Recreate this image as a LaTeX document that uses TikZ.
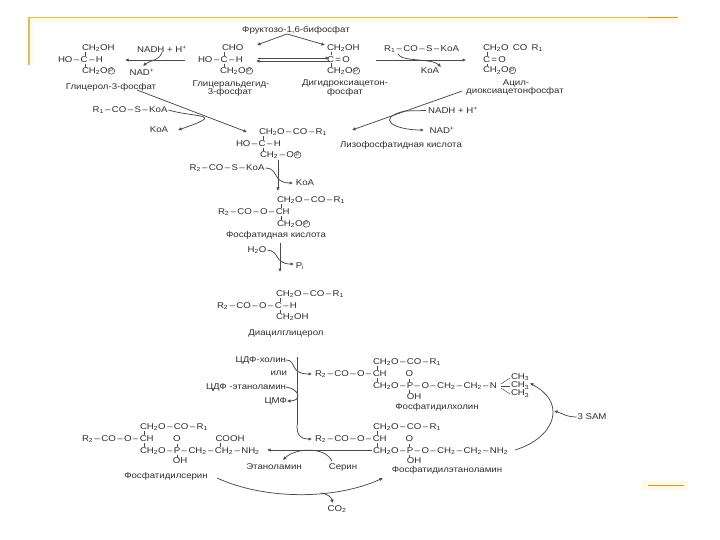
\documentclass[tikz,border=0pt]{standalone}
\usepackage{fontspec}
\usetikzlibrary{arrows.meta}
\setmainfont[FakeStretch=1.15]{Liberation Sans}
\newcommand\lw[1]{\textsubscript{#1}}
\newcommand\hg[1]{\textsuperscript{#1}}
\newcommand\lnk{\,–\,}
\newcommand\pc{\begin{tikzpicture}[baseline=-2.6pt,x=1pt,y=1pt]\node[circle,draw=ink,line width=0.45pt,inner sep=0.2pt,minimum size=6.8pt,font=\fontsize{5.6}{6}\selectfont,text=ink] {P};\end{tikzpicture}}
\definecolor{ink}{HTML}{2E2E2E}
\definecolor{wire}{HTML}{4A4A4A}
\definecolor{gold}{HTML}{C49C30}
\definecolor{paleline}{HTML}{D6BE6A}
\definecolor{glow}{HTML}{FFFAE8}
\tikzset{
  x=1pt,y=-1pt,
  txt/.style={inner sep=0pt,outer sep=0pt,font=\fontsize{8.4}{9}\selectfont,text=ink},
  rw/.style={txt,anchor=west},
  ct/.style={txt,anchor=center},
  arr/.style={draw=wire,line width=0.75pt,-{Latex[length=3.5pt,width=3.5pt]}},
  plain/.style={draw=wire,line width=0.75pt},
  bnd/.style={draw=wire,line width=0.5pt},
}
\begin{document}
\begin{tikzpicture}
\fill[white] (0,0) rectangle (720,540);
\useasboundingbox (0,0) rectangle (720,540);
% frame
\draw[glow,line width=7pt] (29,65) -- (29,20) -- (678,20);
\fill[glow] (642,481) rectangle (688,490);
\draw[paleline,line width=1.3pt] (29,65) -- (29,17.5) -- (648,17.5);
\draw[gold,line width=1.4pt] (648,17.5) -- (678,17.5);
\draw[gold,line width=1.5pt] (648,485.5) -- (684,485.5);
% top row
\node[ct] (fbp) at (296,30) {Фруктозо-1,6-бифосфат};
\node[rw] (g1) at (82,48) {CH\lw{2}OH};
\node[rw] (g2) at (58,60) {HO\lnk C\lnk H};
\node[rw] (g3) at (82,71) {CH\lw{2}O\pc};
\node[ct] (glab) at (111,87) {Глицерол-3-фосфат};
\node[ct] (nadh1) at (162,49) {NADH + H\hg{+}};
\node[ct] (nad1) at (142,72) {NAD\hg{+}};
\node[rw] (a1) at (222,48) {CHO};
\node[rw] (a2) at (198,60) {HO\lnk C\lnk H};
\node[rw] (a3) at (220,71) {CH\lw{2}O\pc};
\node[ct] (alab1) at (231,84) {Глицеральдегид-};
\node[ct] (alab2) at (230,92.5) {3-фосфат};
\node[rw] (d1) at (327,48) {CH\lw{2}OH};
\node[rw] (d2) at (327,59.5) {C\,=\,O};
\node[rw] (d3) at (327,71) {CH\lw{2}O\pc};
\node[ct] (dlab1) at (345,83) {Дигидроксиацетон-};
\node[ct] (dlab2) at (345,92) {фосфат};
\node[ct] (r1s) at (421.5,49) {R\lw{1}\lnk CO\lnk S\lnk KoA};
\node[ct] (koa1) at (430,71) {KoA};
\node[rw] (e1) at (483,48) {CH\lw{2}O\,\,\,CO\,\,\,R\lw{1}};
\node[rw] (e2) at (483,60) {C\,=\,O};
\node[rw] (e3) at (483,70.5) {CH\lw{2}O\pc};
\node[ct] (elab1) at (516,83) {Ацил-};
\node[ct] (elab2) at (515,91) {диоксиацетонфосфат};
% second level
\node[ct] (r1l) at (130,110) {R\lw{1}\lnk CO\lnk S\lnk KoA};
\node[ct] (koa2) at (159,130) {KoA};
\node[rw] (l1) at (259,132) {CH\lw{2}O\lnk CO\lnk R\lw{1}};
\node[rw] (l2) at (236,144) {HO\lnk C\lnk H};
\node[rw] (l3) at (260,155) {CH\lw{2}\lnk O\pc};
\node[ct] (nadh2) at (453,110.5) {NADH + H\hg{+}};
\node[ct] (nad2) at (442,130) {NAD\hg{+}};
\node[ct] (llab) at (401,145) {Лизофосфатидная кислота};
\node[ct] (r2s) at (227,168) {R\lw{2}\lnk CO\lnk S\lnk KoA};
\node[ct] (koa3) at (305,183) {KoA};
% phosphatidic acid
\node[rw] (p1) at (277,200) {CH\lw{2}O\lnk CO\lnk R\lw{1}};
\node[rw] (p2) at (218,212) {R\lw{2}\lnk CO\lnk O\lnk CH};
\node[rw] (p3) at (277,224) {CH\lw{2}O\pc};
\node[ct] (plab) at (276,235) {Фосфатидная кислота};
\node[ct] (h2o) at (257,250) {H\lw{2}O};
\node[ct] (pi) at (300,266) {P\lw{i}};
% diacylglycerol
\node[rw] (q1) at (276,294) {CH\lw{2}O\lnk CO\lnk R\lw{1}};
\node[rw] (q2) at (217,306) {R\lw{2}\lnk CO\lnk O\lnk C\lnk H};
\node[rw] (q3) at (276,317) {CH\lw{2}OH};
\node[ct] (qlab) at (286,333) {Диацилглицерол};
% cofactors
\node[txt,anchor=east] (cdc) at (286,360) {ЦДФ-холин};
\node[txt,anchor=east] (ili) at (287,373) {или};
\node[txt,anchor=east] (cde) at (286,387) {ЦДФ -этаноламин};
\node[txt,anchor=east] (cmp) at (287,401) {ЦМФ};
% phosphatidylcholine
\node[rw] (c1) at (373,362) {CH\lw{2}O\lnk CO\lnk R\lw{1}};
\node[rw] (c2) at (315,374) {R\lw{2}\lnk CO\lnk O\lnk CH};
\node[ct] (co) at (409.5,374) {O};
\node[rw] (c3) at (373,386) {CH\lw{2}O\lnk P\lnk O\lnk CH\lw{2}\lnk CH\lw{2}\lnk N};
\node[rw] (m1) at (511,377) {CH\lw{3}};
\node[rw] (m2) at (511,385.5) {CH\lw{3}};
\node[rw] (m3) at (511,393.5) {CH\lw{3}};
\node[ct] (coh) at (414,397) {OH};
\node[ct] (clab) at (437,407) {Фосфатидилхолин};
\node[ct] (sam) at (592,417) {3 SAM};
% phosphatidylethanolamine
\node[rw] (t1) at (373,427) {CH\lw{2}O\lnk CO\lnk R\lw{1}};
\node[rw] (t2) at (315,439) {R\lw{2}\lnk CO\lnk O\lnk CH};
\node[ct] (to) at (409.5,439) {O};
\node[rw] (t3) at (373,451) {CH\lw{2}O\lnk P\lnk O\lnk CH\lw{2}\lnk CH\lw{2}\lnk NH\lw{2}};
\node[ct] (toh) at (414,461) {OH};
\node[ct] (tlab) at (447,470) {Фосфатидилэтаноламин};
\node[ct] (eth) at (274,467) {Этаноламин};
\node[ct] (ser) at (343,467) {Серин};
% phosphatidylserine
\node[rw] (s1) at (140,427) {CH\lw{2}O\lnk CO\lnk R\lw{1}};
\node[rw] (s2) at (82,439) {R\lw{2}\lnk CO\lnk O\lnk CH};
\node[ct] (so) at (177,439) {O};
\node[ct] (scooh) at (230,439) {COOH};
\node[rw] (s3) at (140,451) {CH\lw{2}O\lnk P\lnk CH\lw{2}\lnk CH\lw{2}\lnk NH\lw{2}};
\node[ct] (soh) at (180,461) {OH};
\node[ct] (slab) at (166,476) {Фосфатидилсерин};
\node[ct] (co2) at (337,509) {CO\lw{2}};
% vertical bonds
\foreach \x/\ya/\yb in {85/52/56, 85/64/67, 224/52/56, 224/64/67, 331/52/55.5, 331/63.5/67,
  487/52/56, 487/64/66.5, 263/136/140, 263/148/151, 281/204/208, 281/216/220, 280/298/302, 280/310/313,
  377/366/370, 377/378/382, 377/431/435, 377/443/447, 144/431/435, 144/443/447, 409/378.5/381.5, 409/390/393,
  409/443.5/446.5, 409/455/458, 177/443.5/446.5, 177/455/458, 220/443/447}
  \draw[bnd] (\x,\ya) -- (\x,\yb);
\draw[bnd] (501,384) -- (510,378);
\draw[bnd] (501,386) -- (510,386);
\draw[bnd] (501,388) -- (510,394);
% reactions: top row
\path (fbp.south) ++(-9,0) coordinate (fbpT);
\draw[arr] (fbpT) -- (257,45);
\draw[arr] (fbpT) -- (325,45);
\draw[arr] (185,60) -- (125,60);
\draw[arr] (nadh1.south) to[out=255,in=40] (143,66);
\draw[arr] (330,61) -- (256,61);
\draw[arr] (258,58) -- (329,58);
\draw[arr] (376,60) -- (466,60);
\draw[arr] (398,54) .. controls (401,62) and (432,58) .. (441,67);
% converging lines
\coordinate (gl) at (137,90);
\draw[arr] (gl) -- (247,132);
\path (elab2.west) ++(-4,0) coordinate (el);
\draw[arr] (el) -- (352,130);
\path (r1l.east) ++(1,0) coordinate (r1e);
\draw[arr] (r1e) .. controls (195,118) and (228,113) .. (178,130);
\path (nadh2.west) ++(-2,0) coordinate (nn);
\draw[arr] (nn) -- (405,111) .. controls (375,118) and (393,130) .. (424,130);
% central stem
\draw[arr] (278,160) -- (278,191);
\path (r2s.east) ++(1,0) coordinate (r2e);
\draw[arr] (r2e) .. controls (279,168) and (272,183) .. (293,183);
\draw[arr] (280,243) -- (280,272);
\path (h2o.east) ++(1,0) coordinate (h2e);
\draw[arr] (h2e) .. controls (280,251) and (274,264) .. (294,264);
% lipid branches
\draw[plain,line width=0.8pt] (297,357) -- (297,425);
\draw[arr] (297,425) .. controls (297,435) and (300,439) .. (312,439);
\draw[arr] (cdc.east) .. controls (297,360) and (289,374) .. (312,374);
\draw[arr] (cde.east) .. controls (300,389) and (302,401) .. (cmp.east);
% bottom reactions
\path (t3.west) ++(-1,-1) coordinate (tw);
\draw[arr] (tw) -- (267,450);
\path (ser.north) ++(-11,-2) coordinate (sn);
\draw[arr] (sn) .. controls (325,446) and (295,448) .. (283,460);
\coordinate (nhe) at (515,450);
\draw[arr] (nhe) .. controls (538,443) and (553,428) .. (553,412) .. controls (553,398) and (542,390) .. (530,383);
\path (sam.west) ++(-1,0) coordinate (sw);
\draw[arr] (sw) .. controls (566,417) and (562,413) .. (554,411);
\draw[arr] (217,478) .. controls (265,500) and (335,500) .. (383,478);
\draw[arr] (321,493) .. controls (328,494) and (331,497) .. (333,503);
\end{tikzpicture}
\end{document}
